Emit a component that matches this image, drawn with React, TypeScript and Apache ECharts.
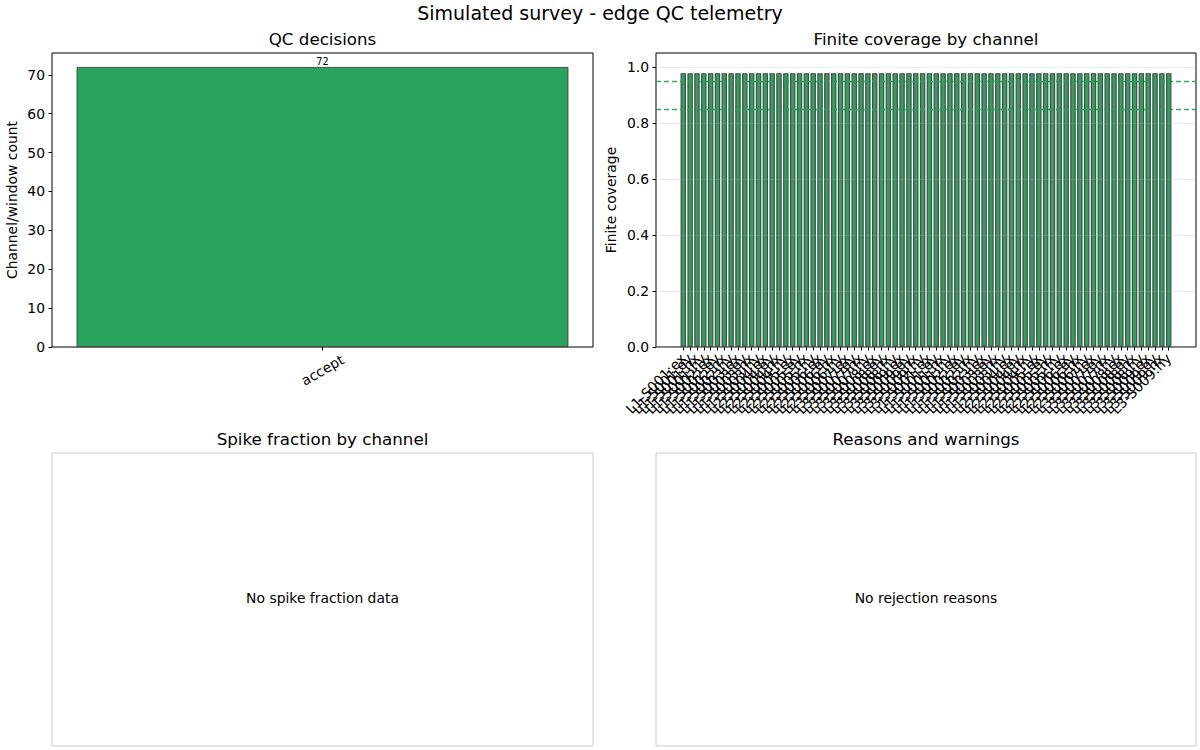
import React, { useEffect, useRef } from "react";
import * as echarts from "echarts";

// QC decision counts
const decisionNames = ["accept"];
const decisionCounts = [72];
const decisionTicks = [0, 10, 20, 30, 40, 50, 60, 70];

// Channel naming: line/station pairs and components, two processing windows
const stations = ["L1-S001", "L1-S002", "L1-S003", "L2-S004", "L2-S005", "L2-S006", "L3-S007", "L3-S008", "L3-S009"];
const components = ["ex", "ey", "hx", "hy"];
const windows = ["w1", "w2"];

// Finite-sample coverage per channel/window
const finiteCoverage = [
  0.978, 0.978, 0.978, 0.978, 0.978, 0.978, 0.978, 0.978, 0.978, 0.978, 0.978, 0.978,
  0.978, 0.978, 0.978, 0.978, 0.978, 0.978, 0.978, 0.978, 0.978, 0.978, 0.978, 0.978,
  0.978, 0.978, 0.978, 0.978, 0.978, 0.978, 0.978, 0.978, 0.978, 0.978, 0.978, 0.978,
  0.978, 0.978, 0.978, 0.978, 0.978, 0.978, 0.978, 0.978, 0.978, 0.978, 0.978, 0.978,
  0.978, 0.978, 0.978, 0.978, 0.978, 0.978, 0.978, 0.978, 0.978, 0.978, 0.978, 0.978,
  0.978, 0.978, 0.978, 0.978, 0.978, 0.978, 0.978, 0.978, 0.978, 0.978, 0.978, 0.978,
];
const coverageThresholds = [0.95, 0.85];
const coverageTicks = [0, 0.2, 0.4, 0.6, 0.8, 1.0];

const channelLabels: string[] = [];
windows.forEach(() => {
  stations.forEach((s) => components.forEach((c) => channelLabels.push(`${s}:${c}`)));
});

const FONT = "DejaVu Sans";
const GREEN = "#2ca25f";
const EDGE = "#333333";
const TICK_FS = 13.9;

export default function App() {
  const ref = useRef<HTMLDivElement>(null);

  useEffect(() => {
    if (!ref.current) return;
    const chart = echarts.init(ref.current, undefined, { renderer: "svg" });

    // coverage panel: frame spans 656..1196, bars occupy the inner band region
    const frameLeft = 656;
    const frameWidth = 540;
    const n = channelLabels.length;
    const lo = -0.4 - 0.05 * (n - 1 + 0.8);
    const hi = n - 1 + 0.4 + 0.05 * (n - 1 + 0.8);
    const pxPerUnit = frameWidth / (hi - lo);
    const barsLeft = frameLeft + (-0.5 - lo) * pxPerUnit;
    const barsWidth = n * pxPerUnit;

    const titleStyle = { fontFamily: FONT, fontSize: 16.7, fontWeight: "normal" as const, color: "#000" };
    const tickLabel = { fontFamily: FONT, fontSize: TICK_FS, color: "#000" };

    chart.setOption({
      animation: false,
      backgroundColor: "#ffffff",
      textStyle: { fontFamily: FONT },
      title: [
        { text: "Simulated survey - edge QC telemetry", left: 600, top: 3, textAlign: "center", padding: 0,
          textStyle: { ...titleStyle, fontSize: 19 } },
        { text: "QC decisions", left: 322.5, top: 30, textAlign: "center", padding: 0, textStyle: titleStyle },
        { text: "Finite coverage by channel", left: 926, top: 30, textAlign: "center", padding: 0, textStyle: titleStyle },
        { text: "Spike fraction by channel", left: 322.5, top: 430, textAlign: "center", padding: 0, textStyle: titleStyle },
        { text: "Reasons and warnings", left: 926, top: 430, textAlign: "center", padding: 0, textStyle: titleStyle },
      ],
      grid: [
        { left: 52, top: 53, width: 541, height: 294, show: true, borderColor: "#000", borderWidth: 1, containLabel: false },
        { left: frameLeft, top: 53, width: frameWidth, height: 294, show: true, borderColor: "#000", borderWidth: 1 },
        { left: barsLeft, top: 53, width: barsWidth, height: 294, show: false },
        { left: 52, top: 453, width: 541, height: 293, show: true, borderColor: "#cccccc", borderWidth: 1 },
        { left: 656, top: 453, width: 540, height: 293, show: true, borderColor: "#cccccc", borderWidth: 1 },
      ],
      xAxis: [
        {
          gridIndex: 0, type: "category", data: decisionNames, boundaryGap: true,
          axisLine: { show: false },
          axisTick: { show: true, alignWithLabel: true, length: 3.5, lineStyle: { color: "#000" } },
          axisLabel: { ...tickLabel, rotate: 30, align: "center", verticalAlign: "middle", margin: 23 },
          splitLine: { show: false },
        },
        { gridIndex: 1, type: "value", min: 0, max: 1, show: false },
        {
          gridIndex: 2, type: "category", data: channelLabels, boundaryGap: true,
          axisLine: { show: false },
          axisTick: { show: true, alignWithLabel: true, interval: 0, length: 3.5, lineStyle: { color: "#000" } },
          axisLabel: { ...tickLabel, rotate: 45, interval: 0, margin: 9, verticalAlign: "middle" },
          splitLine: { show: false },
        },
        { gridIndex: 3, type: "value", min: 0, max: 1, show: false },
        { gridIndex: 4, type: "value", min: 0, max: 1, show: false },
      ],
      yAxis: [
        {
          gridIndex: 0, type: "value", min: 0, max: decisionCounts[0] * 1.05, interval: 10,
          name: "Channel/window count", nameLocation: "middle", nameGap: 33,
          nameTextStyle: { fontFamily: FONT, fontSize: 13.9, color: "#000" },
          axisLine: { show: false },
          axisTick: { show: true, length: 3.5, lineStyle: { color: "#000" }, customValues: decisionTicks },
          axisLabel: { ...tickLabel, margin: 7, customValues: decisionTicks },
          splitLine: { show: false },
        },
        {
          gridIndex: 1, type: "value", min: 0, max: 1.05, interval: 0.2, z: 4,
          name: "Finite coverage", nameLocation: "middle", nameGap: 38,
          nameTextStyle: { fontFamily: FONT, fontSize: 13.9, color: "#000" },
          axisLine: { show: false },
          axisTick: { show: true, length: 3.5, lineStyle: { color: "#000" }, customValues: coverageTicks },
          axisLabel: { ...tickLabel, margin: 7, customValues: coverageTicks, formatter: (v: number) => v.toFixed(1) },
          splitLine: { show: true, lineStyle: { color: "#b0b0b0", opacity: 0.3, width: 0.8 } },
        },
        { gridIndex: 2, type: "value", min: 0, max: 1.05, show: false },
        { gridIndex: 3, type: "value", min: 0, max: 1, show: false },
        { gridIndex: 4, type: "value", min: 0, max: 1, show: false },
      ],
      series: [
        {
          type: "bar", xAxisIndex: 0, yAxisIndex: 0, data: decisionCounts, barWidth: "90.9%",
          itemStyle: { color: GREEN, borderColor: EDGE, borderWidth: 0.8 },
          label: { show: true, position: "top", distance: 1, fontFamily: FONT, fontSize: 9.7, color: "#000" },
        },
        {
          type: "bar", xAxisIndex: 2, yAxisIndex: 2, data: finiteCoverage, barWidth: "80%", z: 2,
          itemStyle: { color: GREEN, borderColor: "#4a4a4a", borderWidth: 1.2 },
        },
        {
          type: "line", xAxisIndex: 1, yAxisIndex: 1, data: [], z: 6, silent: true,
          color: "#2e9a5c",
          markLine: {
            symbol: "none", silent: true, label: { show: false },
            lineStyle: { color: "#2e9a5c", type: [5, 3], width: 1.3, opacity: 0.9 },
            emphasis: { disabled: true },
            data: coverageThresholds.map((v) => ({ yAxis: v, lineStyle: { color: "#2e9a5c" } })),
          },
        },
      ],
      graphic: [
        { type: "text", x: 322.5, y: 598, style: { text: "No spike fraction data", fontFamily: FONT, fontSize: 13.9, fill: "#000", textAlign: "center", textVerticalAlign: "middle" } },
        { type: "text", x: 926, y: 598, style: { text: "No rejection reasons", fontFamily: FONT, fontSize: 13.9, fill: "#000", textAlign: "center", textVerticalAlign: "middle" } },
      ],
    });

    return () => chart.dispose();
  }, []);

  return <div ref={ref} style={{ position: "fixed", left: 0, top: 0, width: 1200, height: 750 }} />;
}
